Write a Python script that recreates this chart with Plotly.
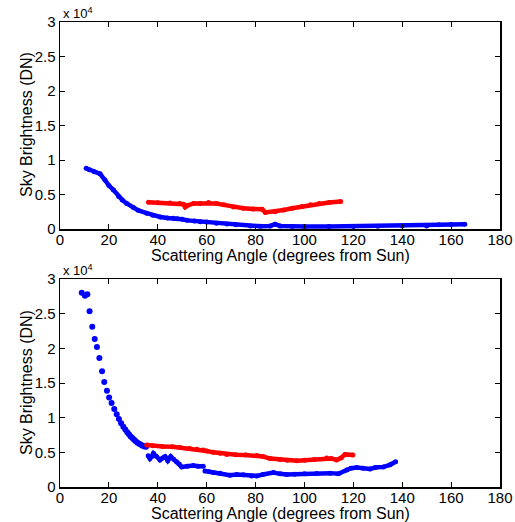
import plotly.graph_objects as go

# top panel (values in units of 1e4 DN)
top_blue_x = [10.7, 12, 14, 16.4, 18.4, 20, 21.9, 24, 25.5, 27.3, 30, 32, 35.5, 38, 41, 44, 46.4, 48, 50,
              52, 55, 57.4, 60, 64, 68.3, 72, 77.9, 82, 86, 88, 90, 95, 100, 110, 120, 130, 140, 150,
              155, 160, 165.6]
top_blue_y = [0.88, 0.86, 0.83, 0.80, 0.71, 0.63, 0.565, 0.47, 0.42, 0.37, 0.31, 0.27, 0.23, 0.20, 0.175,
              0.16, 0.155, 0.15, 0.14, 0.125, 0.115, 0.106, 0.10, 0.085, 0.072, 0.06, 0.043, 0.04, 0.045,
              0.07, 0.045, 0.038, 0.035, 0.035, 0.038, 0.04, 0.043, 0.045, 0.06, 0.065, 0.068]
top_red_x = [36.2, 40, 45, 49, 50.5, 51.2, 52, 54.6, 57.4, 60.8, 64, 67, 71, 75, 79, 82.7, 84, 88, 91.5,
             95, 99, 102.5, 106, 110, 114.8]
top_red_y = [0.387, 0.38, 0.375, 0.37, 0.36, 0.32, 0.34, 0.37, 0.37, 0.385, 0.37, 0.35, 0.32, 0.30, 0.29,
             0.285, 0.24, 0.25, 0.275, 0.30, 0.325, 0.35, 0.37, 0.385, 0.40]

# bottom panel
bot_dots_x = [8.9, 10.2, 11.2, 12.1, 13.2, 14.2, 15.1, 16.1, 17.2, 18.1, 19.2, 20.1, 21.1, 22.2, 23.2,
              24.1, 25.0, 25.9, 26.7, 27.5, 28.2, 28.9, 29.6, 30.3, 31.0, 31.7, 32.4, 33.1, 33.8, 34.5, 35.2]
bot_dots_y = [2.80, 2.76, 2.78, 2.535, 2.31, 2.135, 2.02, 1.86, 1.67, 1.515, 1.39, 1.29, 1.21, 1.125, 1.05,
              0.98, 0.92, 0.87, 0.83, 0.79, 0.76, 0.73, 0.705, 0.68, 0.66, 0.64, 0.625, 0.61, 0.595, 0.585, 0.58]
bot_red_x = [35.5, 38, 42, 46, 49.1, 53, 56, 58.6, 60, 62.7, 65.5, 68.2, 72, 76, 80.5, 83, 86, 90, 93,
             96.9, 100, 104, 109.1, 111, 113.2, 115, 116.6, 119.8]
bot_red_y = [0.606, 0.595, 0.585, 0.58, 0.57, 0.555, 0.545, 0.535, 0.52, 0.50, 0.486, 0.47, 0.465, 0.46,
             0.455, 0.44, 0.41, 0.395, 0.385, 0.38, 0.385, 0.395, 0.42, 0.41, 0.39, 0.42, 0.47, 0.46]
bot_blue_x = [36.1, 36.8, 37.5, 38.2, 39.5, 40.9, 42, 43, 44.1, 45.3, 46.5, 47.7, 48.8, 49.8, 52, 54.5,
              56.5, 58.6, None, 59.3, 61, 62.7, 65.5, 69.5, 72.3, 75, 78.4, 80.5, 83, 87.3, 90, 92.7, 96,
              100, 105, 110.5, 113.9, 117.3, 119, 121.4, 124, 126.8, 129, 132.3, 135, 137.3]
bot_blue_y = [0.45, 0.41, 0.44, 0.485, 0.44, 0.39, 0.42, 0.44, 0.38, 0.44, 0.40, 0.365, 0.33, 0.29, 0.30,
              0.31, 0.30, 0.30, None, 0.23, 0.22, 0.21, 0.20, 0.17, 0.18, 0.175, 0.16, 0.16, 0.18, 0.21,
              0.19, 0.18, 0.185, 0.19, 0.195, 0.20, 0.19, 0.245, 0.27, 0.28, 0.27, 0.26, 0.28, 0.29, 0.32, 0.365]

BLUE = "#0000ff"
RED = "#ff0000"
FONT = "Liberation Sans, Arial, sans-serif"

fig = go.Figure()


def dense(x, y, color, xa, ya):
    fig.add_trace(go.Scatter(x=x, y=y, mode="lines+markers", xaxis=xa, yaxis=ya,
                             line=dict(color=color, width=4.5), marker=dict(color=color, size=5),
                             connectgaps=False, hoverinfo="skip"))


dense(top_blue_x, top_blue_y, BLUE, "x", "y")
dense(top_red_x, top_red_y, RED, "x", "y")
fig.add_trace(go.Scatter(x=bot_dots_x, y=bot_dots_y, mode="markers", xaxis="x2", yaxis="y2",
                         marker=dict(color=BLUE, size=6), hoverinfo="skip"))
dense(bot_red_x, bot_red_y, RED, "x2", "y2")
dense(bot_blue_x, bot_blue_y, BLUE, "x2", "y2")

W, H = 515, 522


def px(x):
    return x / W


def py(y):
    return 1 - y / H


xdom = [px(60), px(500)]


def xax(anchor):
    return dict(domain=xdom, anchor=anchor, range=[0, 180], tickvals=list(range(0, 181, 20)),
                ticks="inside", ticklen=5, tickwidth=1, tickcolor="black", showline=True, linecolor="black",
                linewidth=1.5, mirror="ticks", showgrid=False, zeroline=False, automargin=False,
                ticklabelstandoff=-4,
                tickfont=dict(size=15, color="black", family=FONT))


def yax(anchor, dom):
    return dict(domain=dom, anchor=anchor, range=[0, 3], tickvals=[0, 0.5, 1, 1.5, 2, 2.5, 3],
                ticktext=["0", "0.5", "1", "1.5", "2", "2.5", "3"],
                ticks="inside", ticklen=5, tickwidth=1, tickcolor="black", showline=True, linecolor="black",
                linewidth=1.5, mirror="ticks", showgrid=False, zeroline=False, automargin=False,
                tickfont=dict(size=15, color="black", family=FONT))


def label(text, x, y, size, angle=0, xanchor="center", yanchor="middle"):
    return dict(text=text, xref="paper", yref="paper", x=px(x), y=py(y), textangle=angle,
                xanchor=xanchor, yanchor=yanchor, showarrow=False,
                font=dict(size=size, color="black", family=FONT))


fig.update_layout(
    width=W, height=H, showlegend=False, hovermode=False,
    paper_bgcolor="white", plot_bgcolor="white",
    margin=dict(l=0, r=0, t=0, b=0),
    xaxis=xax("y"), yaxis=yax("x", [py(229), py(22)]),
    xaxis2=xax("y2"), yaxis2=yax("x2", [py(487), py(279)]),
    annotations=[
        label("x 10<sup>4</sup>", 61, 23, 13, xanchor="left", yanchor="bottom"),
        label("x 10<sup>4</sup>", 61, 280, 13, xanchor="left", yanchor="bottom"),
        label("Sky Brightness (DN)", 26, 125, 16, angle=-90),
        label("Sky Brightness (DN)", 26, 383, 16, angle=-90),
        label("Scattering Angle (degrees from Sun)", 280, 255, 16),
        label("Scattering Angle (degrees from Sun)", 280, 513, 16),
    ],
)

# drop the page's default body margin so the figure fills the window exactly
fig.write_html("out.html", config={"displayModeBar": False, "staticPlot": True},
               post_script="document.body.style.margin='0';document.body.style.overflow='hidden';")
